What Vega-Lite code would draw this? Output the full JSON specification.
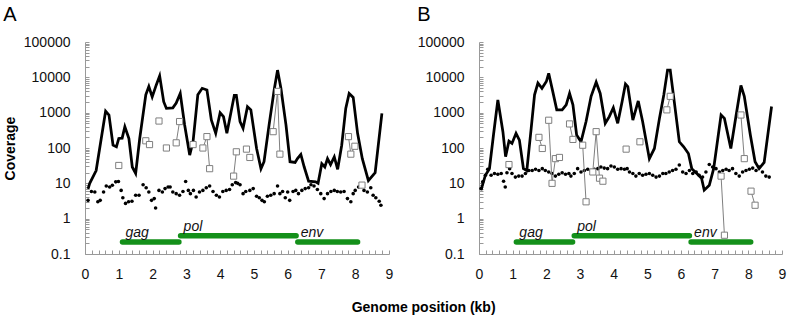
{
  "$schema": "https://vega.github.io/schema/vega-lite/v6.json",
  "padding": {"left": 3, "top": 5, "right": 1, "bottom": 2},
  "config": {
    "view": {"stroke": null},
    "font": "Liberation Sans",
    "axis": {"grid": false, "domain": true, "ticks": true, "domainColor": "#999999", "domainWidth": 1, "domainOpacity": 1, "tickColor": "#999999", "tickWidth": 1, "tickOpacity": 1, "labelFont": "Liberation Sans", "labelFontSize": 14, "labelColor": "#111111", "titleFont": "Liberation Sans", "titleFontSize": 14, "titleFontWeight": "bold", "titleColor": "#000000"},
    "title": {"font": "Liberation Sans", "color": "#000000"}
  },
  "title": {"text": "Genome position (kb)", "orient": "bottom", "anchor": "middle", "fontSize": 14, "fontWeight": "bold", "dx": 29, "offset": 20},
  "spacing": 24,
  "datasets": {
    "cov": [
      {"panel": "A", "kb": 0.09, "value": 7}, {"panel": "A", "kb": 0.14, "value": 10}, {"panel": "A", "kb": 0.33, "value": 23}, {"panel": "A", "kb": 0.61, "value": 1100}, {"panel": "A", "kb": 0.71, "value": 850}, {"panel": "A", "kb": 0.83, "value": 120}, {"panel": "A", "kb": 0.93, "value": 108}, {"panel": "A", "kb": 1.0, "value": 186}, {"panel": "A", "kb": 1.1, "value": 190}, {"panel": "A", "kb": 1.18, "value": 400}, {"panel": "A", "kb": 1.3, "value": 186}, {"panel": "A", "kb": 1.4, "value": 29}, {"panel": "A", "kb": 1.5, "value": 19}, {"panel": "A", "kb": 1.62, "value": 186}, {"panel": "A", "kb": 1.8, "value": 3200}, {"panel": "A", "kb": 1.89, "value": 5500}, {"panel": "A", "kb": 1.99, "value": 2800}, {"panel": "A", "kb": 2.11, "value": 6100}, {"panel": "A", "kb": 2.21, "value": 11000}, {"panel": "A", "kb": 2.33, "value": 2050}, {"panel": "A", "kb": 2.41, "value": 1320}, {"panel": "A", "kb": 2.6, "value": 1370}, {"panel": "A", "kb": 2.7, "value": 1860}, {"panel": "A", "kb": 2.82, "value": 3500}, {"panel": "A", "kb": 2.95, "value": 450}, {"panel": "A", "kb": 3.1, "value": 63}, {"panel": "A", "kb": 3.2, "value": 155}, {"panel": "A", "kb": 3.34, "value": 3200}, {"panel": "A", "kb": 3.47, "value": 4900}, {"panel": "A", "kb": 3.61, "value": 4400}, {"panel": "A", "kb": 3.74, "value": 620}, {"panel": "A", "kb": 3.87, "value": 260}, {"panel": "A", "kb": 4.0, "value": 1000}, {"panel": "A", "kb": 4.1, "value": 770}, {"panel": "A", "kb": 4.2, "value": 260}, {"panel": "A", "kb": 4.42, "value": 3100}, {"panel": "A", "kb": 4.48, "value": 3100}, {"panel": "A", "kb": 4.59, "value": 560}, {"panel": "A", "kb": 4.68, "value": 360}, {"panel": "A", "kb": 4.81, "value": 1480}, {"panel": "A", "kb": 4.91, "value": 1200}, {"panel": "A", "kb": 5.08, "value": 97}, {"panel": "A", "kb": 5.21, "value": 26}, {"panel": "A", "kb": 5.3, "value": 41}, {"panel": "A", "kb": 5.45, "value": 450}, {"panel": "A", "kb": 5.6, "value": 4400}, {"panel": "A", "kb": 5.7, "value": 16000}, {"panel": "A", "kb": 5.8, "value": 4900}, {"panel": "A", "kb": 5.95, "value": 450}, {"panel": "A", "kb": 6.07, "value": 41}, {"panel": "A", "kb": 6.22, "value": 39}, {"panel": "A", "kb": 6.29, "value": 50}, {"panel": "A", "kb": 6.39, "value": 66}, {"panel": "A", "kb": 6.49, "value": 29}, {"panel": "A", "kb": 6.62, "value": 11.5}, {"panel": "A", "kb": 6.83, "value": 11}, {"panel": "A", "kb": 6.9, "value": 10}, {"panel": "A", "kb": 7.01, "value": 36}, {"panel": "A", "kb": 7.1, "value": 29}, {"panel": "A", "kb": 7.18, "value": 50}, {"panel": "A", "kb": 7.27, "value": 34}, {"panel": "A", "kb": 7.38, "value": 56}, {"panel": "A", "kb": 7.48, "value": 25}, {"panel": "A", "kb": 7.6, "value": 120}, {"panel": "A", "kb": 7.72, "value": 1320}, {"panel": "A", "kb": 7.82, "value": 3500}, {"panel": "A", "kb": 7.94, "value": 2700}, {"panel": "A", "kb": 8.07, "value": 260}, {"panel": "A", "kb": 8.21, "value": 50}, {"panel": "A", "kb": 8.39, "value": 12}, {"panel": "A", "kb": 8.59, "value": 20}, {"panel": "A", "kb": 8.79, "value": 950},
      {"panel": "B", "kb": 0.06, "value": 6.4}, {"panel": "B", "kb": 0.19, "value": 17}, {"panel": "B", "kb": 0.31, "value": 26}, {"panel": "B", "kb": 0.43, "value": 233}, {"panel": "B", "kb": 0.56, "value": 2300}, {"panel": "B", "kb": 0.71, "value": 290}, {"panel": "B", "kb": 0.79, "value": 57}, {"panel": "B", "kb": 0.89, "value": 157}, {"panel": "B", "kb": 0.98, "value": 135}, {"panel": "B", "kb": 1.1, "value": 260}, {"panel": "B", "kb": 1.2, "value": 167}, {"panel": "B", "kb": 1.32, "value": 26}, {"panel": "B", "kb": 1.42, "value": 23}, {"panel": "B", "kb": 1.55, "value": 360}, {"panel": "B", "kb": 1.65, "value": 3200}, {"panel": "B", "kb": 1.75, "value": 6900}, {"panel": "B", "kb": 1.87, "value": 4900}, {"panel": "B", "kb": 2.0, "value": 7600}, {"panel": "B", "kb": 2.07, "value": 13000}, {"panel": "B", "kb": 2.19, "value": 4000}, {"panel": "B", "kb": 2.31, "value": 1200}, {"panel": "B", "kb": 2.47, "value": 1200}, {"panel": "B", "kb": 2.59, "value": 1660}, {"panel": "B", "kb": 2.69, "value": 3500}, {"panel": "B", "kb": 2.79, "value": 1660}, {"panel": "B", "kb": 2.9, "value": 233}, {"panel": "B", "kb": 3.03, "value": 150}, {"panel": "B", "kb": 3.18, "value": 560}, {"panel": "B", "kb": 3.33, "value": 2900}, {"panel": "B", "kb": 3.48, "value": 7300}, {"panel": "B", "kb": 3.6, "value": 3500}, {"panel": "B", "kb": 3.75, "value": 500}, {"panel": "B", "kb": 3.87, "value": 770}, {"panel": "B", "kb": 3.99, "value": 1380}, {"panel": "B", "kb": 4.12, "value": 500}, {"panel": "B", "kb": 4.25, "value": 2050}, {"panel": "B", "kb": 4.35, "value": 6500}, {"panel": "B", "kb": 4.42, "value": 5500}, {"panel": "B", "kb": 4.57, "value": 620}, {"panel": "B", "kb": 4.73, "value": 2150}, {"panel": "B", "kb": 4.86, "value": 560}, {"panel": "B", "kb": 5.06, "value": 50}, {"panel": "B", "kb": 5.21, "value": 97}, {"panel": "B", "kb": 5.36, "value": 690}, {"panel": "B", "kb": 5.49, "value": 3200}, {"panel": "B", "kb": 5.6, "value": 16000}, {"panel": "B", "kb": 5.68, "value": 16000}, {"panel": "B", "kb": 5.8, "value": 2050}, {"panel": "B", "kb": 5.95, "value": 150}, {"panel": "B", "kb": 6.08, "value": 108}, {"panel": "B", "kb": 6.22, "value": 70}, {"panel": "B", "kb": 6.32, "value": 26}, {"panel": "B", "kb": 6.47, "value": 19}, {"panel": "B", "kb": 6.61, "value": 14}, {"panel": "B", "kb": 6.69, "value": 6.4}, {"panel": "B", "kb": 6.84, "value": 8.8}, {"panel": "B", "kb": 6.97, "value": 26}, {"panel": "B", "kb": 7.19, "value": 860}, {"panel": "B", "kb": 7.29, "value": 690}, {"panel": "B", "kb": 7.48, "value": 97}, {"panel": "B", "kb": 7.63, "value": 770}, {"panel": "B", "kb": 7.78, "value": 5900}, {"panel": "B", "kb": 7.88, "value": 2900}, {"panel": "B", "kb": 8.06, "value": 233}, {"panel": "B", "kb": 8.2, "value": 41}, {"panel": "B", "kb": 8.32, "value": 26}, {"panel": "B", "kb": 8.47, "value": 39}, {"panel": "B", "kb": 8.69, "value": 1500}
    ],
    "sq": [
      {"panel": "A", "kb": 1.0, "value": 32, "grp": "a1"}, {"panel": "A", "kb": 1.8, "value": 160, "grp": "a2"}, {"panel": "A", "kb": 1.91, "value": 125, "grp": "a3"}, {"panel": "A", "kb": 2.19, "value": 580, "grp": "a4"}, {"panel": "A", "kb": 2.41, "value": 100, "grp": "a5"}, {"panel": "A", "kb": 2.7, "value": 140, "grp": "a6"}, {"panel": "A", "kb": 2.8, "value": 560, "grp": "a6"}, {"panel": "A", "kb": 3.2, "value": 125, "grp": "a7"}, {"panel": "A", "kb": 3.49, "value": 100, "grp": "a8"}, {"panel": "A", "kb": 3.61, "value": 210, "grp": "a8"}, {"panel": "A", "kb": 3.69, "value": 26, "grp": "a8"}, {"panel": "A", "kb": 4.4, "value": 16, "grp": "a9"}, {"panel": "A", "kb": 4.48, "value": 78, "grp": "a9"}, {"panel": "A", "kb": 4.78, "value": 93, "grp": "a10"}, {"panel": "A", "kb": 4.88, "value": 54, "grp": "a11"}, {"panel": "A", "kb": 5.57, "value": 290, "grp": "a12"}, {"panel": "A", "kb": 5.7, "value": 4000, "grp": "a12"}, {"panel": "A", "kb": 5.77, "value": 67, "grp": "a12"}, {"panel": "A", "kb": 7.8, "value": 210, "grp": "a13"}, {"panel": "A", "kb": 7.87, "value": 67, "grp": "a13"}, {"panel": "A", "kb": 7.99, "value": 112, "grp": "a13"}, {"panel": "A", "kb": 8.2, "value": 8.9, "grp": "a14"},
      {"panel": "B", "kb": 0.89, "value": 34, "grp": "b1"}, {"panel": "B", "kb": 1.78, "value": 200, "grp": "b2"}, {"panel": "B", "kb": 1.88, "value": 97, "grp": "b2"}, {"panel": "B", "kb": 2.07, "value": 610, "grp": "b3"}, {"panel": "B", "kb": 2.17, "value": 10, "grp": "b3"}, {"panel": "B", "kb": 2.27, "value": 50, "grp": "b3"}, {"panel": "B", "kb": 2.39, "value": 54, "grp": "b3"}, {"panel": "B", "kb": 2.69, "value": 480, "grp": "b4"}, {"panel": "B", "kb": 2.79, "value": 175, "grp": "b4"}, {"panel": "B", "kb": 3.08, "value": 120, "grp": "b5"}, {"panel": "B", "kb": 3.18, "value": 3.0, "grp": "b5"}, {"panel": "B", "kb": 3.38, "value": 21, "grp": "b6"}, {"panel": "B", "kb": 3.48, "value": 290, "grp": "b6"}, {"panel": "B", "kb": 3.58, "value": 14, "grp": "b6"}, {"panel": "B", "kb": 3.68, "value": 11.5, "grp": "b6"}, {"panel": "B", "kb": 4.37, "value": 93, "grp": "b7"}, {"panel": "B", "kb": 4.78, "value": 150, "grp": "b8"}, {"panel": "B", "kb": 5.58, "value": 1200, "grp": "b9"}, {"panel": "B", "kb": 5.68, "value": 2900, "grp": "b9"}, {"panel": "B", "kb": 7.19, "value": 16, "grp": "b10"}, {"panel": "B", "kb": 7.29, "value": 0.34, "grp": "b10"}, {"panel": "B", "kb": 7.78, "value": 860, "grp": "b11"}, {"panel": "B", "kb": 7.88, "value": 50, "grp": "b11"}, {"panel": "B", "kb": 8.08, "value": 6, "grp": "b12"}, {"panel": "B", "kb": 8.2, "value": 2.4, "grp": "b12"}
    ],
    "dots": [
      {"panel": "A", "kb": 0.09, "value": 3.3}, {"panel": "A", "kb": 0.19, "value": 5.9}, {"panel": "A", "kb": 0.29, "value": 5.7}, {"panel": "A", "kb": 0.38, "value": 3.0}, {"panel": "A", "kb": 0.45, "value": 3.3}, {"panel": "A", "kb": 0.55, "value": 5.7}, {"panel": "A", "kb": 0.63, "value": 8.4}, {"panel": "A", "kb": 0.73, "value": 7.9}, {"panel": "A", "kb": 0.81, "value": 8.8}, {"panel": "A", "kb": 0.91, "value": 11}, {"panel": "A", "kb": 0.99, "value": 11.3}, {"panel": "A", "kb": 1.07, "value": 6.3}, {"panel": "A", "kb": 1.12, "value": 3.9}, {"panel": "A", "kb": 1.2, "value": 2.7}, {"panel": "A", "kb": 1.29, "value": 3.0}, {"panel": "A", "kb": 1.39, "value": 3.1}, {"panel": "A", "kb": 1.5, "value": 4.6}, {"panel": "A", "kb": 1.6, "value": 4.6}, {"panel": "A", "kb": 1.72, "value": 9.1}, {"panel": "A", "kb": 1.81, "value": 7.5}, {"panel": "A", "kb": 1.89, "value": 5.7}, {"panel": "A", "kb": 1.97, "value": 3.3}, {"panel": "A", "kb": 2.05, "value": 3.7}, {"panel": "A", "kb": 2.09, "value": 2.0}, {"panel": "A", "kb": 2.19, "value": 6.3}, {"panel": "A", "kb": 2.29, "value": 5.7}, {"panel": "A", "kb": 2.37, "value": 7.1}, {"panel": "A", "kb": 2.46, "value": 7.9}, {"panel": "A", "kb": 2.52, "value": 7.9}, {"panel": "A", "kb": 2.6, "value": 5.7}, {"panel": "A", "kb": 2.7, "value": 5.1}, {"panel": "A", "kb": 2.8, "value": 4.6}, {"panel": "A", "kb": 2.9, "value": 5.9}, {"panel": "A", "kb": 2.98, "value": 11.3}, {"panel": "A", "kb": 3.06, "value": 6.3}, {"panel": "A", "kb": 3.12, "value": 5.1}, {"panel": "A", "kb": 3.21, "value": 6.3}, {"panel": "A", "kb": 3.29, "value": 4.1}, {"panel": "A", "kb": 3.39, "value": 5.7}, {"panel": "A", "kb": 3.49, "value": 6.3}, {"panel": "A", "kb": 3.59, "value": 7.5}, {"panel": "A", "kb": 3.69, "value": 8.4}, {"panel": "A", "kb": 3.79, "value": 5.9}, {"panel": "A", "kb": 3.89, "value": 4.6}, {"panel": "A", "kb": 3.98, "value": 4.1}, {"panel": "A", "kb": 4.08, "value": 5.9}, {"panel": "A", "kb": 4.18, "value": 6.3}, {"panel": "A", "kb": 4.28, "value": 6.7}, {"panel": "A", "kb": 4.36, "value": 9.1}, {"panel": "A", "kb": 4.46, "value": 10.5}, {"panel": "A", "kb": 4.52, "value": 10}, {"panel": "A", "kb": 4.59, "value": 9.1}, {"panel": "A", "kb": 4.68, "value": 5.1}, {"panel": "A", "kb": 4.76, "value": 5.9}, {"panel": "A", "kb": 4.88, "value": 6.3}, {"panel": "A", "kb": 4.98, "value": 7.1}, {"panel": "A", "kb": 5.08, "value": 4.3}, {"panel": "A", "kb": 5.16, "value": 3.9}, {"panel": "A", "kb": 5.24, "value": 3.3}, {"panel": "A", "kb": 5.31, "value": 3.0}, {"panel": "A", "kb": 5.4, "value": 4.3}, {"panel": "A", "kb": 5.5, "value": 4.6}, {"panel": "A", "kb": 5.6, "value": 5.1}, {"panel": "A", "kb": 5.7, "value": 8.4}, {"panel": "A", "kb": 5.77, "value": 5.1}, {"panel": "A", "kb": 5.85, "value": 5.9}, {"panel": "A", "kb": 5.93, "value": 3.9}, {"panel": "A", "kb": 6.0, "value": 5.7}, {"panel": "A", "kb": 6.06, "value": 3.3}, {"panel": "A", "kb": 6.16, "value": 5.9}, {"panel": "A", "kb": 6.24, "value": 6.3}, {"panel": "A", "kb": 6.32, "value": 5.1}, {"panel": "A", "kb": 6.42, "value": 6.3}, {"panel": "A", "kb": 6.52, "value": 7.1}, {"panel": "A", "kb": 6.62, "value": 7.5}, {"panel": "A", "kb": 6.69, "value": 9.1}, {"panel": "A", "kb": 6.78, "value": 8.4}, {"panel": "A", "kb": 6.88, "value": 6.7}, {"panel": "A", "kb": 6.98, "value": 5.1}, {"panel": "A", "kb": 7.08, "value": 3.7}, {"panel": "A", "kb": 7.18, "value": 5.1}, {"panel": "A", "kb": 7.28, "value": 5.9}, {"panel": "A", "kb": 7.38, "value": 6.3}, {"panel": "A", "kb": 7.47, "value": 5.9}, {"panel": "A", "kb": 7.57, "value": 5.7}, {"panel": "A", "kb": 7.67, "value": 5.9}, {"panel": "A", "kb": 7.77, "value": 3.7}, {"panel": "A", "kb": 7.87, "value": 3.0}, {"panel": "A", "kb": 7.94, "value": 5.1}, {"panel": "A", "kb": 8.0, "value": 6.3}, {"panel": "A", "kb": 8.1, "value": 7.9}, {"panel": "A", "kb": 8.26, "value": 6.3}, {"panel": "A", "kb": 8.36, "value": 5.7}, {"panel": "A", "kb": 8.46, "value": 7.5}, {"panel": "A", "kb": 8.53, "value": 4.6}, {"panel": "A", "kb": 8.61, "value": 3.9}, {"panel": "A", "kb": 8.71, "value": 3.1}, {"panel": "A", "kb": 8.76, "value": 2.4},
      {"panel": "B", "kb": 0.06, "value": 7.1}, {"panel": "B", "kb": 0.11, "value": 11}, {"panel": "B", "kb": 0.19, "value": 17}, {"panel": "B", "kb": 0.26, "value": 25}, {"panel": "B", "kb": 0.36, "value": 17}, {"panel": "B", "kb": 0.46, "value": 19}, {"panel": "B", "kb": 0.56, "value": 18}, {"panel": "B", "kb": 0.66, "value": 19}, {"panel": "B", "kb": 0.73, "value": 11.5}, {"panel": "B", "kb": 0.78, "value": 7.9}, {"panel": "B", "kb": 0.83, "value": 20}, {"panel": "B", "kb": 0.91, "value": 26}, {"panel": "B", "kb": 0.98, "value": 19}, {"panel": "B", "kb": 1.08, "value": 15}, {"panel": "B", "kb": 1.18, "value": 16}, {"panel": "B", "kb": 1.28, "value": 16}, {"panel": "B", "kb": 1.38, "value": 19}, {"panel": "B", "kb": 1.48, "value": 23}, {"panel": "B", "kb": 1.58, "value": 23}, {"panel": "B", "kb": 1.68, "value": 25}, {"panel": "B", "kb": 1.78, "value": 23}, {"panel": "B", "kb": 1.88, "value": 26}, {"panel": "B", "kb": 1.97, "value": 23}, {"panel": "B", "kb": 2.07, "value": 21}, {"panel": "B", "kb": 2.17, "value": 19}, {"panel": "B", "kb": 2.27, "value": 16}, {"panel": "B", "kb": 2.37, "value": 18}, {"panel": "B", "kb": 2.47, "value": 20}, {"panel": "B", "kb": 2.57, "value": 18}, {"panel": "B", "kb": 2.67, "value": 19}, {"panel": "B", "kb": 2.73, "value": 16}, {"panel": "B", "kb": 2.83, "value": 19}, {"panel": "B", "kb": 2.93, "value": 26}, {"panel": "B", "kb": 3.03, "value": 21}, {"panel": "B", "kb": 3.13, "value": 23}, {"panel": "B", "kb": 3.23, "value": 25}, {"panel": "B", "kb": 3.33, "value": 23}, {"panel": "B", "kb": 3.43, "value": 25}, {"panel": "B", "kb": 3.53, "value": 26}, {"panel": "B", "kb": 3.62, "value": 29}, {"panel": "B", "kb": 3.72, "value": 27}, {"panel": "B", "kb": 3.82, "value": 26}, {"panel": "B", "kb": 3.92, "value": 31}, {"panel": "B", "kb": 4.02, "value": 29}, {"panel": "B", "kb": 4.12, "value": 25}, {"panel": "B", "kb": 4.22, "value": 26}, {"panel": "B", "kb": 4.32, "value": 25}, {"panel": "B", "kb": 4.4, "value": 26}, {"panel": "B", "kb": 4.47, "value": 21}, {"panel": "B", "kb": 4.57, "value": 19}, {"panel": "B", "kb": 4.66, "value": 16}, {"panel": "B", "kb": 4.76, "value": 19}, {"panel": "B", "kb": 4.86, "value": 17}, {"panel": "B", "kb": 4.96, "value": 18}, {"panel": "B", "kb": 5.06, "value": 19}, {"panel": "B", "kb": 5.16, "value": 17}, {"panel": "B", "kb": 5.26, "value": 15}, {"panel": "B", "kb": 5.36, "value": 16}, {"panel": "B", "kb": 5.46, "value": 19}, {"panel": "B", "kb": 5.55, "value": 19}, {"panel": "B", "kb": 5.65, "value": 21}, {"panel": "B", "kb": 5.75, "value": 23}, {"panel": "B", "kb": 5.85, "value": 25}, {"panel": "B", "kb": 5.95, "value": 33}, {"panel": "B", "kb": 6.05, "value": 21}, {"panel": "B", "kb": 6.15, "value": 19}, {"panel": "B", "kb": 6.25, "value": 23}, {"panel": "B", "kb": 6.35, "value": 19}, {"panel": "B", "kb": 6.45, "value": 21}, {"panel": "B", "kb": 6.54, "value": 17}, {"panel": "B", "kb": 6.64, "value": 15}, {"panel": "B", "kb": 6.74, "value": 21}, {"panel": "B", "kb": 6.84, "value": 34}, {"panel": "B", "kb": 6.94, "value": 29}, {"panel": "B", "kb": 7.04, "value": 26}, {"panel": "B", "kb": 7.14, "value": 21}, {"panel": "B", "kb": 7.24, "value": 23}, {"panel": "B", "kb": 7.34, "value": 25}, {"panel": "B", "kb": 7.43, "value": 23}, {"panel": "B", "kb": 7.53, "value": 26}, {"panel": "B", "kb": 7.63, "value": 19}, {"panel": "B", "kb": 7.73, "value": 16}, {"panel": "B", "kb": 7.83, "value": 21}, {"panel": "B", "kb": 7.93, "value": 23}, {"panel": "B", "kb": 8.03, "value": 25}, {"panel": "B", "kb": 8.13, "value": 27}, {"panel": "B", "kb": 8.23, "value": 23}, {"panel": "B", "kb": 8.32, "value": 29}, {"panel": "B", "kb": 8.42, "value": 21}, {"panel": "B", "kb": 8.52, "value": 16}, {"panel": "B", "kb": 8.62, "value": 15}
    ],
    "genes": [
      {"gene": "gag", "kb": 1.11, "kbEnd": 2.78, "value": 0.22},
      {"gene": "pol", "kb": 2.83, "kbEnd": 6.25, "value": 0.33},
      {"gene": "env", "kb": 6.3, "kbEnd": 8.07, "value": 0.22}
    ]
  },
  "hconcat": [
    {
      "width": 304, "height": 212,
      "title": {"text": "A", "anchor": "start", "fontSize": 20, "fontWeight": "normal", "offset": 10},
      "encoding": {
        "x": {"field": "kb", "type": "quantitative", "title": null, "scale": {"domain": [0, 9], "nice": false},
              "axis": {"values": [0,0.2,0.4,0.6,0.8,1,1.2,1.4,1.6,1.8,2,2.2,2.4,2.6,2.8,3,3.2,3.4,3.6,3.8,4,4.2,4.4,4.6,4.8,5,5.2,5.4,5.6,5.8,6,6.2,6.4,6.6,6.8,7,7.2,7.4,7.6,7.8,8,8.2,8.4,8.6,8.8,9], "labelExpr": "datum.value % 1 == 0 ? format(datum.value, 'd') : ''", "labelOverlap": false, "labelFlush": false, "tickSize": -4, "labelPadding": 17, "title": null, "domain": true, "ticks": true, "domainColor": "#999999", "tickColor": "#999999"}},
        "y": {"field": "value", "type": "quantitative", "title": "Coverage", "scale": {"type": "log", "domain": [0.1, 100000], "nice": false},
              "axis": {"values": [0.1,0.2,0.3,0.4,0.5,0.6,0.7,0.8,0.9,1,2,3,4,5,6,7,8,9,10,20,30,40,50,60,70,80,90,100,200,300,400,500,600,700,800,900,1000,2000,3000,4000,5000,6000,7000,8000,9000,10000,20000,30000,40000,50000,60000,70000,80000,90000,100000], "labelExpr": "indexof([0.1,1,10,100,1000,10000,100000], datum.value) >= 0 ? format(datum.value, '~g') : ''", "labelOverlap": false, "labelFlush": false, "tickSize": -4, "labelPadding": 19, "titlePadding": 6, "title": "Coverage", "domain": true, "ticks": true, "domainColor": "#999999", "tickColor": "#999999"}}
      },
      "layer": [
        {"data": {"name": "genes"}, "mark": {"type": "rule", "color": "#14901a", "strokeWidth": 5.5, "strokeCap": "round"}, "encoding": {"x2": {"field": "kbEnd"}}},
        {"data": {"name": "genes"}, "mark": {"type": "text", "align": "left", "baseline": "alphabetic", "fontStyle": "italic", "fontSize": 14, "dx": 3, "dy": -4.5, "color": "#111111"}, "encoding": {"text": {"field": "gene"}}},
        {"data": {"name": "dots"}, "transform": [{"filter": "datum.panel == 'A'"}], "mark": {"type": "circle", "color": "#000000", "size": 13, "opacity": 1}},
        {"data": {"name": "cov"}, "transform": [{"filter": "datum.panel == 'A'"}], "mark": {"type": "line", "color": "#000000", "strokeWidth": 2.75, "strokeJoin": "miter"}},
        {"data": {"name": "sq"}, "transform": [{"filter": "datum.panel == 'A'"}], "mark": {"type": "line", "color": "#7f7f7f", "strokeWidth": 1}, "encoding": {"detail": {"field": "grp"}}},
        {"data": {"name": "sq"}, "transform": [{"filter": "datum.panel == 'A'"}], "mark": {"type": "point", "shape": "square", "filled": true, "fill": "#ffffff", "stroke": "#7f7f7f", "strokeWidth": 1, "size": 38, "opacity": 1}}
      ]
    },
    {
      "width": 303, "height": 212,
      "title": {"text": "B", "anchor": "start", "fontSize": 20, "fontWeight": "normal", "offset": 10},
      "encoding": {
        "x": {"field": "kb", "type": "quantitative", "title": null, "scale": {"domain": [0, 9], "nice": false},
              "axis": {"values": [0,0.2,0.4,0.6,0.8,1,1.2,1.4,1.6,1.8,2,2.2,2.4,2.6,2.8,3,3.2,3.4,3.6,3.8,4,4.2,4.4,4.6,4.8,5,5.2,5.4,5.6,5.8,6,6.2,6.4,6.6,6.8,7,7.2,7.4,7.6,7.8,8,8.2,8.4,8.6,8.8,9], "labelExpr": "datum.value % 1 == 0 ? format(datum.value, 'd') : ''", "labelOverlap": false, "labelFlush": false, "tickSize": -4, "labelPadding": 17, "title": null, "domain": true, "ticks": true, "domainColor": "#999999", "tickColor": "#999999"}},
        "y": {"field": "value", "type": "quantitative", "title": null, "scale": {"type": "log", "domain": [0.1, 100000], "nice": false},
              "axis": {"values": [0.1,0.2,0.3,0.4,0.5,0.6,0.7,0.8,0.9,1,2,3,4,5,6,7,8,9,10,20,30,40,50,60,70,80,90,100,200,300,400,500,600,700,800,900,1000,2000,3000,4000,5000,6000,7000,8000,9000,10000,20000,30000,40000,50000,60000,70000,80000,90000,100000], "labelExpr": "indexof([0.1,1,10,100,1000,10000,100000], datum.value) >= 0 ? format(datum.value, '~g') : ''", "labelOverlap": false, "labelFlush": false, "tickSize": -4, "labelPadding": 19, "title": null, "domain": true, "ticks": true, "domainColor": "#999999", "tickColor": "#999999"}}
      },
      "layer": [
        {"data": {"name": "genes"}, "mark": {"type": "rule", "color": "#14901a", "strokeWidth": 5.5, "strokeCap": "round"}, "encoding": {"x2": {"field": "kbEnd"}}},
        {"data": {"name": "genes"}, "mark": {"type": "text", "align": "left", "baseline": "alphabetic", "fontStyle": "italic", "fontSize": 14, "dx": 3, "dy": -4.5, "color": "#111111"}, "encoding": {"text": {"field": "gene"}}},
        {"data": {"name": "dots"}, "transform": [{"filter": "datum.panel == 'B'"}], "mark": {"type": "circle", "color": "#000000", "size": 13, "opacity": 1}},
        {"data": {"name": "cov"}, "transform": [{"filter": "datum.panel == 'B'"}], "mark": {"type": "line", "color": "#000000", "strokeWidth": 2.75, "strokeJoin": "miter"}},
        {"data": {"name": "sq"}, "transform": [{"filter": "datum.panel == 'B'"}], "mark": {"type": "line", "color": "#7f7f7f", "strokeWidth": 1}, "encoding": {"detail": {"field": "grp"}}},
        {"data": {"name": "sq"}, "transform": [{"filter": "datum.panel == 'B'"}], "mark": {"type": "point", "shape": "square", "filled": true, "fill": "#ffffff", "stroke": "#7f7f7f", "strokeWidth": 1, "size": 38, "opacity": 1}}
      ]
    }
  ]
}
